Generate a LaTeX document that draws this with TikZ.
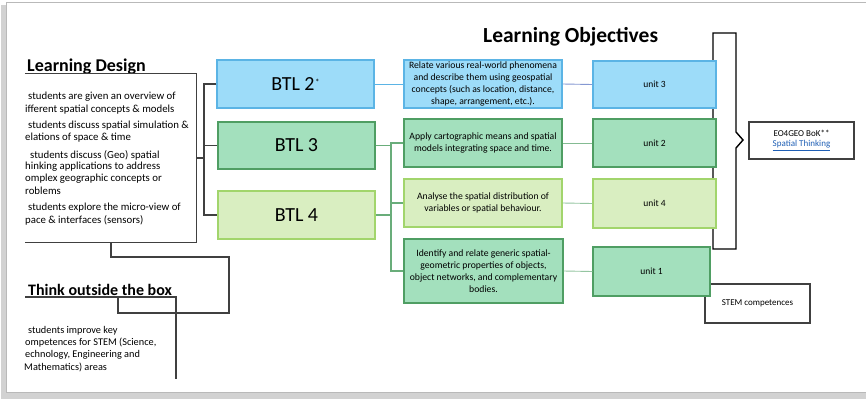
\documentclass[tikz,border=0pt]{standalone}
\usepackage{fontspec}
\setmainfont{Carlito}
\definecolor{bluefill}{HTML}{9DDCF9}
\definecolor{blueline}{HTML}{5BB4E5}
\definecolor{greenfill}{HTML}{A3E0BD}
\definecolor{greenline}{HTML}{4F9E63}
\definecolor{lgfill}{HTML}{D9EEC1}
\definecolor{lgline}{HTML}{A2D56C}
\definecolor{dk}{HTML}{404040}
\definecolor{linkblue}{HTML}{1F5FB5}
\begin{document}
\begin{tikzpicture}[x=1pt,y=-1pt,
  bx/.style={draw, line width=1.3pt, inner sep=1pt, align=center},
  bluebox/.style={bx, fill=bluefill, draw=blueline},
  greenbox/.style={bx, fill=greenfill, draw=greenline},
  lgbox/.style={bx, fill=lgfill, draw=lgline},
  btltext/.style={font=\fontsize{20}{24}\selectfont},
  objtext/.style={font=\fontsize{9.7}{12}\selectfont},
  unittext/.style={font=\fontsize{9.5}{11}\selectfont},
  title/.style={font=\bfseries\fontsize{18}{22}\selectfont, anchor=west, inner sep=0pt},
  body/.style={font=\fontsize{10.8}{13}\selectfont, anchor=west, inner sep=0pt, align=left},
  wbox/.style={draw=dk, line width=1.2pt, fill=white, font=\fontsize{9}{11}\selectfont, align=center},
  dkline/.style={draw=dk, line width=1.2pt},
  gline/.style={draw=greenline!85, line width=1.3pt},
  thin/.style={line width=0.9pt}
]
\useasboundingbox (0,0) rectangle (866,399);
% frame
\fill[gray!35] (1,5) rectangle (866,399);
\fill[white, draw=gray!55, line width=0.8pt] (6,2) rectangle (866,392);

% titles
\node[title] (ldt) at (27,67) {Learning Design};
\node[title, font=\bfseries\fontsize{21.5}{26}\selectfont] (lot) at (483,37) {Learning Objectives};
\node[title, font=\bfseries\fontsize{16}{20}\selectfont] (tot) at (28,290) {Think outside the box};

% Learning design box
\node[minimum width=171pt, minimum height=168pt, inner sep=0pt] (ld) at (110.5,158) {};
\draw[dkline] (ld.north west) -- (ld.north east) -- (ld.south east) -- (ld.south west);
\node[body] (l1) at (28,97) {students are given an overview of};
\node[body] (l2) at (25,110) {ifferent spatial concepts \& models};
\node[body] (l3) at (28,126) {students discuss spatial simulation \&};
\node[body] (l4) at (25,138) {elations of space \& time};
\node[body] (l5) at (30,155) {students discuss (Geo) spatial};
\node[body] (l6) at (25,167) {hinking applications to address};
\node[body] (l7) at (25,179) {omplex geographic concepts or};
\node[body] (l8) at (25,191) {roblems};
\node[body] (l9) at (28,208) {students explore the micro-view of};
\node[body] (l10) at (25,220) {pace \& interfaces (sensors)};

% Think outside box
\coordinate (tb1) at (25,297);
\coordinate (tb2) at (176,297);
\coordinate (tb3) at (176,379);
\draw[dkline] (tb1) -- (tb2) -- (tb3);
\node[body, font=\fontsize{10.3}{12}\selectfont] (t1) at (28,331) {students improve key};
\node[body, font=\fontsize{10.3}{12}\selectfont] (t2) at (25,343) {ompetences for STEM (Science,};
\node[body, font=\fontsize{10.3}{12}\selectfont] (t3) at (25,355) {echnology, Engineering and};
\node[body, font=\fontsize{10.3}{12}\selectfont] (t4) at (24,367) {Mathematics) areas};

% connector from LD box down to think box
\coordinate (c1) at (111,257);
\coordinate (c2) at (229,257);
\coordinate (c3) at (229,313);
\coordinate (c4) at (118,313);
\coordinate (c5) at (118,297);
\draw[dkline] (ld.south -| c1) -- (c1) -- (c2) -- (c3) -- (c4) -- (c5);

% right bracket
\coordinate (rb1) at (713,33);
\coordinate (rb2) at (736,33);
\coordinate (rb3) at (736,132);
\coordinate (rb4) at (743,140);
\coordinate (rb5) at (736,148);
\coordinate (rb6) at (736,249);
\coordinate (rb7) at (713,249);
\draw[line width=1.4pt, line join=miter] (rb1) -- (rb2) -- (rb3) -- (rb4) -- (rb5) -- (rb6) -- (rb7) -- cycle;

% STEM and EO4GEO boxes
\node[wbox, minimum width=105pt, minimum height=39pt] (stem) at (757.5,303.5) {STEM competences};
\node[wbox, minimum width=105pt, minimum height=37pt] (eo) at (801.5,140.5) {EO4GEO BoK**\\[-1pt]\textcolor{linkblue}{\underline{Spatial Thinking}}};

% BTL boxes
\node[bluebox, btltext, minimum width=157pt, minimum height=48pt] (btl2) at (295.5,84) {BTL 2\kern0.5pt\raisebox{5pt}{\fontsize{9}{9}\selectfont *}};
\node[greenbox, btltext, minimum width=157pt, minimum height=47pt] (btl3) at (296.5,145.5) {BTL 3};
\node[lgbox, btltext, minimum width=157pt, minimum height=48pt] (btl4) at (296.5,215) {BTL 4};

% objective boxes
\node[bluebox, objtext, minimum width=158pt, minimum height=48pt] (o1) at (483,84) {Relate various real-world phenomena\\and describe them using geospatial\\concepts (such as location, distance,\\shape, arrangement, etc.).};
\node[greenbox, objtext, minimum width=158pt, minimum height=48pt] (o2) at (483,143) {Apply cartographic means and spatial\\models integrating space and time.};
\node[lgbox, objtext, minimum width=158pt, minimum height=48pt] (o3) at (483,203) {Analyse the spatial distribution of\\variables or spatial behaviour.};
\node[greenbox, objtext, minimum width=159pt, minimum height=64pt] (o4) at (483.5,271) {Identify and relate generic spatial-\\geometric properties of objects,\\object networks, and complementary\\bodies.};

% unit boxes
\node[bluebox, unittext, minimum width=123pt, minimum height=47pt] (u3) at (654.5,84.5) {unit 3};
\node[greenbox, unittext, minimum width=123pt, minimum height=48pt] (u2) at (654.5,143) {unit 2};
\node[lgbox, unittext, minimum width=123pt, minimum height=49pt] (u4) at (654.5,203.5) {unit 4};
\node[greenbox, unittext, minimum width=117pt, minimum height=49pt] (u1) at (651.5,271.5) {unit 1};

% left bracket
\coordinate (lb) at (204,158);
\draw[dkline] (ld.east) -- (lb);
\draw[dkline] (btl2.west) -| (lb) |- (btl4.west);
\draw[dkline] (lb |- btl3.west) -- (btl3.west);

% BTL2 -> o1
\draw[blueline, thin] (btl2.east) -- (o1.west);

% green bracket
\coordinate (gb) at (391,200);
\draw[gline] (o2.west) -| (gb) |- (o4.west);
\draw[gline] (gb |- o3.west) -- (o3.west);
\draw[gline] (btl3.east) -- (gb |- btl3.east);
\draw[gline] (btl4.east) -- (gb |- btl4.east);

% objectives -> units
\draw[thin, draw=blueline!70!violet!80] (o1.east) -- (u3.west);
\draw[thin, draw=greenline!70] (o2.east) -- (u2.west);
\draw[thin, draw=greenline!60] (o3.east) -- (u4.west);
\draw[thin, draw=greenline!60] (o4.east) -- (u1.west);
\end{tikzpicture}
\end{document}
